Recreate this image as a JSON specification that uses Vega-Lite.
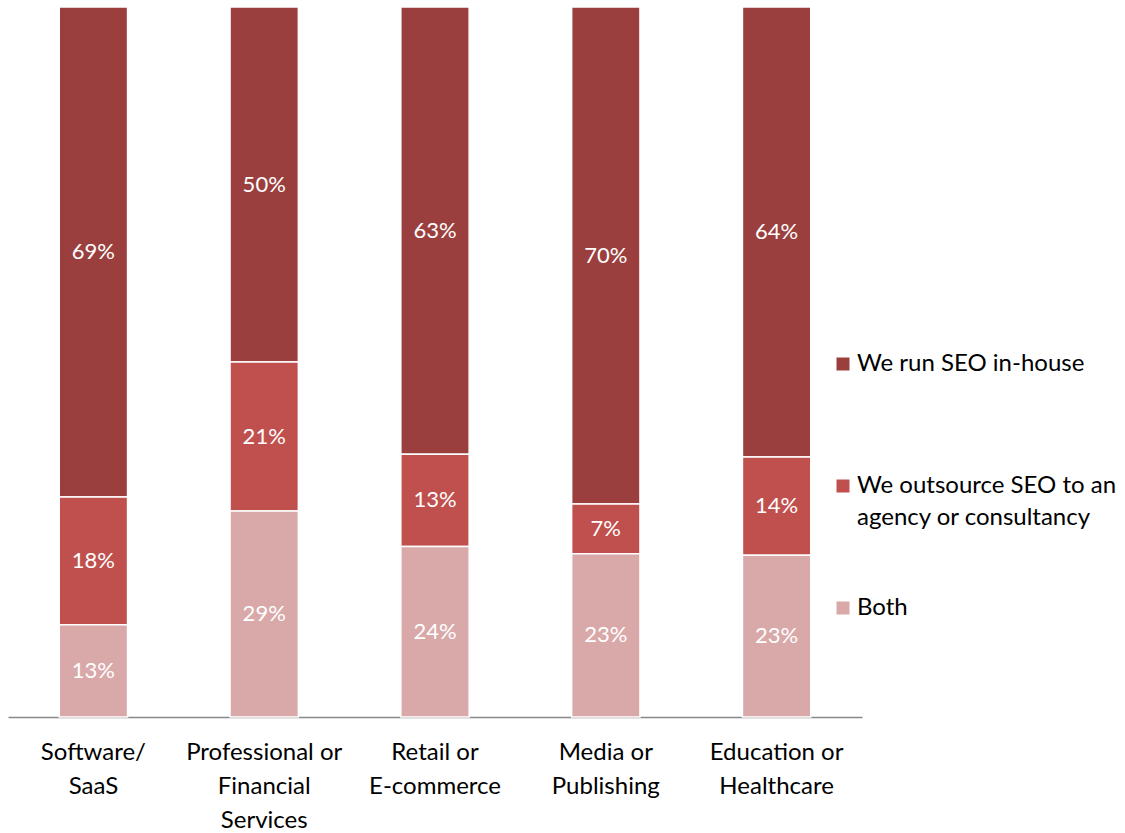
{
  "$schema": "https://vega.github.io/schema/vega-lite/v6.json",
  "width": 854,
  "height": 710,
  "padding": {"left": 8, "top": 6, "right": 0, "bottom": 0},
  "background": "white",
  "config": {
    "view": {"stroke": null},
    "font": "Lato",
    "style": {"guide-label": {"dy": -12, "lineHeight": 32}}
  },
  "data": {
    "values": [
      {"industry": "Software/|SaaS", "series": "We run SEO in-house", "value": 0.69},
      {"industry": "Software/|SaaS", "series": "We outsource SEO to an agency or consultancy", "value": 0.18},
      {"industry": "Software/|SaaS", "series": "Both", "value": 0.13},
      {"industry": "Professional or|Financial|Services", "series": "We run SEO in-house", "value": 0.50},
      {"industry": "Professional or|Financial|Services", "series": "We outsource SEO to an agency or consultancy", "value": 0.21},
      {"industry": "Professional or|Financial|Services", "series": "Both", "value": 0.29},
      {"industry": "Retail or|E-commerce", "series": "We run SEO in-house", "value": 0.63},
      {"industry": "Retail or|E-commerce", "series": "We outsource SEO to an agency or consultancy", "value": 0.13},
      {"industry": "Retail or|E-commerce", "series": "Both", "value": 0.24},
      {"industry": "Media or|Publishing", "series": "We run SEO in-house", "value": 0.70},
      {"industry": "Media or|Publishing", "series": "We outsource SEO to an agency or consultancy", "value": 0.07},
      {"industry": "Media or|Publishing", "series": "Both", "value": 0.23},
      {"industry": "Education or|Healthcare", "series": "We run SEO in-house", "value": 0.64},
      {"industry": "Education or|Healthcare", "series": "We outsource SEO to an agency or consultancy", "value": 0.14},
      {"industry": "Education or|Healthcare", "series": "Both", "value": 0.23}
    ]
  },
  "transform": [
    {"stack": "value", "groupby": ["industry"], "sort": [{"field": "series", "order": "ascending"}], "offset": "normalize", "as": ["v0", "v1"]},
    {"calculate": "(datum.v0 + datum.v1) / 2", "as": "mid"}
  ],
  "encoding": {
    "x": {
      "field": "industry",
      "type": "nominal",
      "sort": null,
      "scale": {"paddingInner": 0.6, "paddingOuter": 0.3},
      "axis": {
        "title": null,
        "ticks": false,
        "labelAngle": 0,
        "labelFontSize": 24,
        "labelColor": "black",
        "labelPadding": 35,
        "labelLineHeight": 34,
        "labelLimit": 400,
        "labelOverlap": false,
        "labelExpr": "split(datum.label, '|')",
        "domainColor": "#898989",
        "domainWidth": 1.5
      }
    }
  },
  "layer": [
    {
      "mark": {"type": "bar", "stroke": "white", "strokeWidth": 1.5},
      "encoding": {
        "y": {"field": "v0", "type": "quantitative", "scale": {"domain": [0, 1], "nice": false}, "axis": null},
        "y2": {"field": "v1"},
        "color": {
          "field": "series",
          "type": "nominal",
          "scale": {
            "domain": ["We run SEO in-house", "We outsource SEO to an agency or consultancy", "Both"],
            "range": ["#9B3F3E", "#C0504D", "#D9A9A9"]
          },
          "legend": {
            "title": null,
            "orient": "none",
            "legendX": 823,
            "legendY": 296,
            "padding": 0,
            "symbolType": "square",
            "symbolSize": 169,
            "symbolStrokeWidth": 0,
            "labelFontSize": 24,
            "labelColor": "black",
            "labelLimit": 400,
            "labelOffset": 2,
            "labelBaseline": "top",
            "clipHeight": 122,
            "rowPadding": 0,
            "labelExpr": "datum.label == 'We outsource SEO to an agency or consultancy' ? ['We outsource SEO to an', 'agency or consultancy'] : datum.label"
          }
        }
      }
    },
    {
      "mark": {"type": "text", "color": "white", "fontSize": 22},
      "encoding": {
        "y": {"field": "mid", "type": "quantitative", "scale": {"domain": [0, 1]}},
        "text": {"field": "value", "type": "quantitative", "format": ".0%"}
      }
    }
  ]
}
